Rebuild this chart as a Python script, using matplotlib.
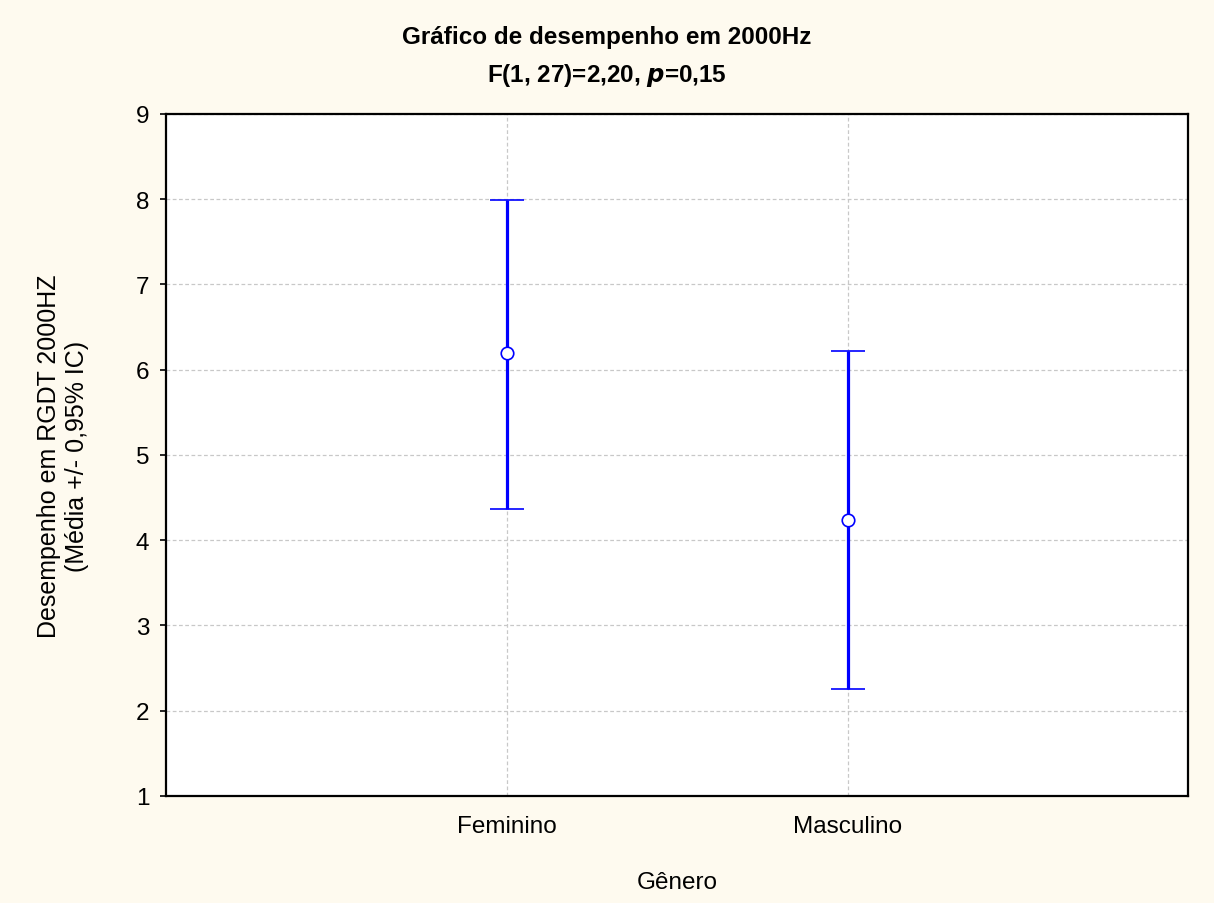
import matplotlib
matplotlib.use('Agg')
import matplotlib.pyplot as plt

plt.rcParams['font.family'] = ['Liberation Sans', 'DejaVu Sans']

generos = ['Feminino', 'Masculino']
medias = [6.20, 4.24]
ic_inf = [4.37, 2.26]
ic_sup = [7.99, 6.22]

fig = plt.figure(figsize=(12.14, 9.04), dpi=100, facecolor='#fefaef')
ax = fig.add_axes([0.1367, 0.1184, 0.8422, 0.7544])
ax.set_facecolor('white')

x = list(range(len(generos)))
err_baixo = [m - lo for m, lo in zip(medias, ic_inf)]
err_cima = [hi - m for m, hi in zip(medias, ic_sup)]
ax.errorbar(x, medias, yerr=[err_baixo, err_cima], fmt='o', color='#0000ff',
            ecolor='#0000ff', elinewidth=2.3, capsize=12.5, capthick=2.6,
            markersize=9, markerfacecolor='white', markeredgecolor='#0000ff',
            markeredgewidth=1.2, zorder=3)

ax.set_xlim(-1, 2)
ax.set_ylim(1, 9)
ax.set_xticks(x)
ax.set_xticklabels(generos)
ax.set_yticks(range(1, 10))
ax.grid(True, color='#c8c8c8', linestyle=(0, (3, 2)), linewidth=0.9)
ax.set_axisbelow(True)
ax.tick_params(axis='both', labelsize=17.5, direction='out', length=4, width=1.2)
ax.tick_params(axis='x', length=0, pad=14)
ax.tick_params(axis='y', pad=8)
for s in ax.spines.values():
    s.set_linewidth(1.6)

ax.set_xlabel('Gênero', fontsize=17.5, labelpad=24)
ax.set_ylabel('Desempenho em RGDT 2000HZ\n(Média +/- 0,95% IC)', fontsize=18,
              labelpad=34, linespacing=1.2)

fig.text(0.5, 0.959, 'Gráfico de desempenho em 2000Hz', ha='center', va='center',
         fontsize=17.5, fontweight='bold')
fig.text(0.5, 0.917, 'F(1, 27)=2,20, $\\boldsymbol{p}$=0,15', ha='center', va='center',
         fontsize=17.5, fontweight='bold')

fig.savefig('out.png', dpi=100, facecolor=fig.get_facecolor())
